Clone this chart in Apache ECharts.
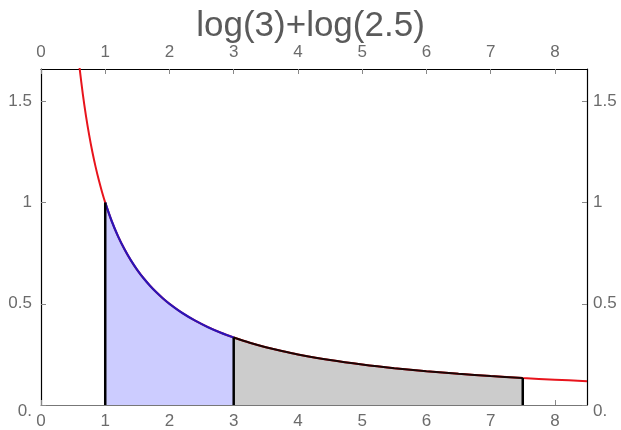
<!DOCTYPE html>
<html>
<head>
<meta charset="utf-8">
<script src="https://cdn.jsdelivr.net/npm/echarts@6/dist/echarts.min.js"></script>
<style>
  html, body { margin: 0; padding: 0; background: #fff; }
  #chart { width: 621px; height: 430px; }
</style>
</head>
<body>
<div id="chart"></div>
<script>
// Sampled points of the curve y = 1/x
const xs = [0.6, 0.65, 0.7, 0.75, 0.8, 0.85, 0.9, 0.95, 1, 1.1, 1.2, 1.3, 1.4, 1.5, 1.6, 1.7, 1.8, 1.9, 2, 2.2, 2.4, 2.6, 2.8, 3, 3.25, 3.5, 3.75, 4, 4.5, 5, 5.5, 6, 6.5, 7, 7.5, 8, 8.5];
const ys = [1.6667, 1.5385, 1.4286, 1.3333, 1.25, 1.1765, 1.1111, 1.0526, 1, 0.9091, 0.8333, 0.7692, 0.7143, 0.6667, 0.625, 0.5882, 0.5556, 0.5263, 0.5, 0.4545, 0.4167, 0.3846, 0.3571, 0.3333, 0.3077, 0.2857, 0.2667, 0.25, 0.2222, 0.2, 0.1818, 0.1667, 0.1538, 0.1429, 0.1333, 0.125, 0.1176];

// Interval bounds: first shaded part [1, 3], second shaded part [3, 7.5]
const bounds = [1, 3, 7.5];
const titleText = 'log(3)+log(2.5)';
const xTicks = [0, 1, 2, 3, 4, 5, 6, 7, 8];
const yTicks = [0, 0.5, 1, 1.5];

const pts = xs.map((x, i) => [x, ys[i]]);
const between = (a, b) => pts.filter(p => p[0] >= a - 1e-9 && p[0] <= b + 1e-9);
const yAt = x => ys[xs.indexOf(x)];

const labelFont = { color: '#6b6b6b', fontSize: 17, fontFamily: 'Liberation Sans, Arial, sans-serif' };

const xAxisCommon = {
  type: 'value', min: 0, max: 8.5, interval: 1,
  splitLine: { show: false },
  axisTick: { show: true, inside: true, length: 5, lineStyle: { color: '#888' } },
  axisLabel: Object.assign({ margin: 8, showMaxLabel: false,
    formatter: v => xTicks.includes(v) ? String(v) : '' }, labelFont)
};
const yFmt = v => {
  if (!yTicks.includes(v)) return '';
  return v === 0 ? '{z|0.}' : String(v);
};
const yAxisCommon = {
  type: 'value', min: 0, max: 1.66, interval: 0.5,
  splitLine: { show: false },
  axisTick: { show: true, inside: true, length: 5, lineStyle: { color: '#888' } },
  axisLabel: Object.assign({ showMaxLabel: false, formatter: yFmt,
    rich: { z: Object.assign({ padding: [12, 0, 0, 0] }, labelFont) } }, labelFont)
};

const vline = (x) => ({
  type: 'line', xAxisIndex: 0, yAxisIndex: 0, symbol: 'none', silent: true,
  data: [[x, 0], [x, yAt(x)]],
  lineStyle: { color: '#000', width: 2.5 }, z: 5
});

const chart = echarts.init(document.getElementById('chart'));
chart.setOption({
  animation: false,
  title: {
    text: titleText, left: 'center', top: 4,
    textStyle: { color: '#5a5a5a', fontSize: 35, fontWeight: 'normal', fontFamily: 'Liberation Sans, Arial, sans-serif' }
  },
  grid: { left: 41, right: 34, top: 69, bottom: 25 },
  xAxis: [
    Object.assign({}, xAxisCommon, { position: 'bottom', axisLine: { show: true, onZero: false, lineStyle: { color: '#777', width: 1.2 } } }),
    Object.assign({}, xAxisCommon, { position: 'top', axisLine: { show: true, onZero: false, lineStyle: { color: '#000', width: 1.2 } } })
  ],
  yAxis: [
    Object.assign({}, yAxisCommon, { position: 'left', axisLine: { show: true, onZero: false, lineStyle: { color: '#000', width: 1.2 } },
      axisLabel: Object.assign({}, yAxisCommon.axisLabel, { margin: 9 }) }),
    Object.assign({}, yAxisCommon, { position: 'right', axisLine: { show: true, onZero: false, lineStyle: { color: '#000', width: 1.2 } },
      axisLabel: Object.assign({}, yAxisCommon.axisLabel, { margin: 6 }) })
  ],
  series: [
    {
      type: 'line', symbol: 'none', smooth: 0.3, silent: true,
      data: between(bounds[0], bounds[1]),
      lineStyle: { width: 0 },
      areaStyle: { color: '#ccccff', opacity: 1, origin: 'start' }, z: 1
    },
    {
      type: 'line', symbol: 'none', smooth: 0.3, silent: true,
      data: between(bounds[1], bounds[2]),
      lineStyle: { width: 0 },
      areaStyle: { color: '#cccccc', opacity: 1, origin: 'start' }, z: 1
    },
    {
      type: 'line', symbol: 'none', smooth: 0.3, silent: true,
      data: pts, lineStyle: { color: '#e8141c', width: 2 }, z: 3
    },
    {
      type: 'line', symbol: 'none', smooth: 0.3, silent: true,
      data: between(bounds[0], bounds[1]), lineStyle: { color: '#2a14b8', width: 2.2 }, z: 4
    },
    {
      type: 'line', symbol: 'none', smooth: 0.3, silent: true,
      data: between(bounds[1], bounds[2]), lineStyle: { color: '#1a0505', width: 2 }, z: 4
    },
    vline(bounds[0]), vline(bounds[1]), vline(bounds[2])
  ]
});
</script>
</body>
</html>
